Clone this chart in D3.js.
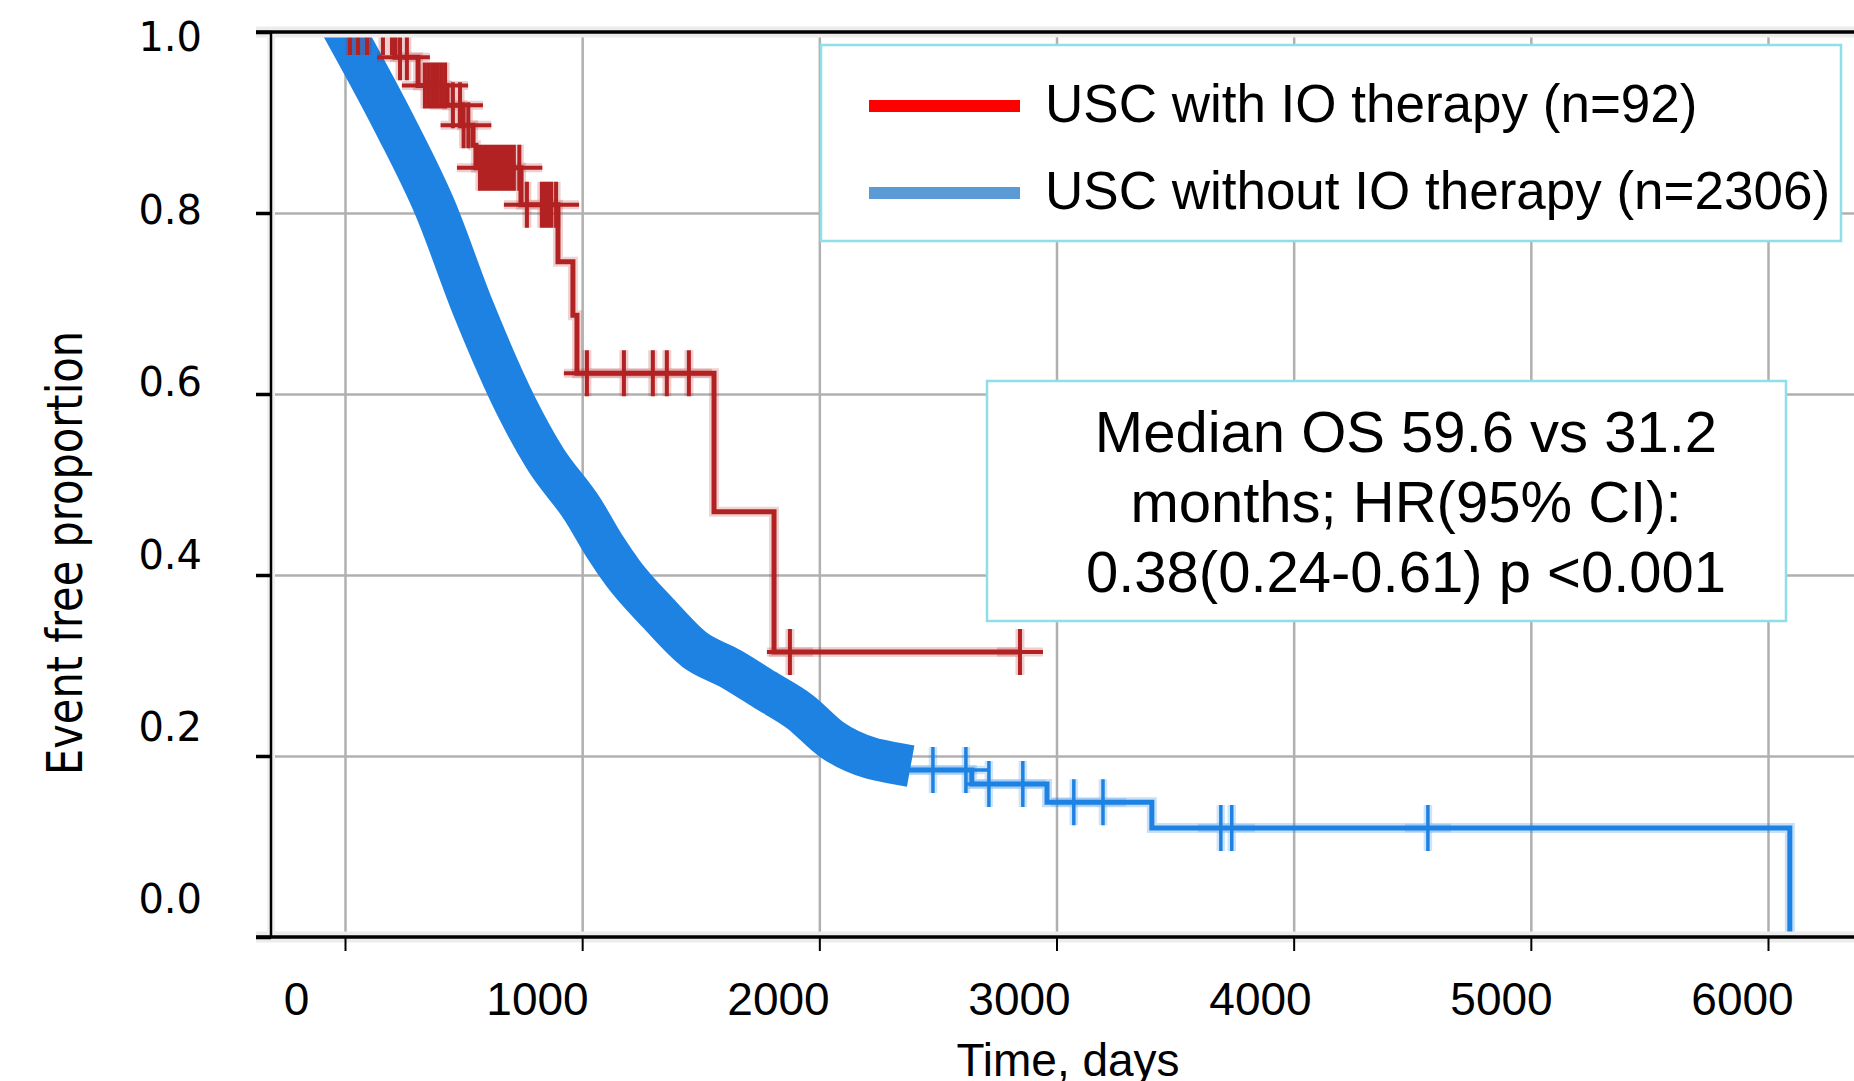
<!DOCTYPE html>
<html lang="en">
<head>
<meta charset="UTF-8">
<title>USC survival with and without IO therapy</title>
<script src="https://d3js.org/d3.v7.min.js"></script>
<style>
  body { margin: 0; background: #fff; }
  svg { display: block; }
  .grid line { stroke: #b0b0b0; stroke-width: 2.5; }
  .grid path, .lab path { display: none; }
  .lab line { display: none; }
</style>
</head>
<body>
<script>
// axis values
const xTicks = [0, 1000, 2000, 3000, 4000, 5000, 6000];
const yTicks = [0, 0.2, 0.4, 0.6, 0.8, 1.0];

// USC with IO therapy (n=92): step points
const ioTime = [0, 211, 308, 430, 493, 540, 552, 742, 898, 961, 978, 1556, 1809, 2846];
const ioSurv = [1.0, 0.972, 0.941, 0.919, 0.897, 0.875, 0.850, 0.809, 0.746, 0.687, 0.623, 0.470, 0.315, 0.315];
const ioCensor = [21, 55, 93, 160, 198, 232, 261, 337, 354, 371, 388, 405, 422, 455, 485, 500, 520,
                  569, 585, 599, 612, 624, 640, 653, 668, 683, 698, 712, 735, 767, 830, 845, 856, 870, 890,
                  1020, 1176, 1298, 1357, 1450, 1876, 2846];

// USC without IO therapy (n=2306): early part is a solid band of censor marks
const noIoBandTime = [0, 211, 379, 540, 725, 843, 1003, 1096, 1172, 1320, 1476, 1623, 1771, 1918, 2053, 2213, 2298];
const noIoBandSurv = [1.0, 0.897, 0.806, 0.695, 0.585, 0.529, 0.472, 0.431, 0.402, 0.358, 0.317, 0.297, 0.273, 0.249, 0.218, 0.198, 0.193];
// sparse tail of the same curve
const noIoTime = [2298, 2643, 2960, 3402, 6092];
const noIoSurv = [0.1845, 0.169, 0.149, 0.1204, 0];
const noIoCensor = [2479, 2618, 2715, 2858, 3073, 3196, 3693, 3739, 4566];

const legendLabels = ["USC with IO therapy (n=92)", "USC without IO therapy (n=2306)"];
const legendColors = ["#ff0000", "#5b9bd5"];
const statsLines = ["Median OS 59.6 vs 31.2", "months; HR(95% CI):", "0.38(0.24-0.61) p <0.001"];

const W = 1854, H = 1081;
const plotL = 271, plotR = 1854, plotT = 32, plotB = 937;
const red = "#b22222", blue = "#1e82e3";
const arial = "'Liberation Sans', Arial, sans-serif";
const dejavu = "'DejaVu Sans', Verdana, sans-serif";

const svg = d3.select("body").append("svg")
    .attr("width", W)
    .attr("height", H);

svg.append("rect").attr("width", W).attr("height", H).attr("fill", "#fff");

const x = d3.scaleLinear().domain([0, 6000]).range([345, 1768]);
const y = d3.scaleLinear().domain([0, 1]).range([plotB, plotT]);
// the tick labels in the figure sit a little off their grid lines
const xLabel = d3.scaleLinear().domain([0, 6000]).range([296, 1742]);
const yLabel = d3.scaleLinear().domain([0, 1]).range([900, 38]);

// grid
svg.append("g")
    .attr("class", "grid")
    .attr("transform", `translate(0,${plotB})`)
    .call(d3.axisBottom(x).tickValues(xTicks).tickSize(-(plotB - plotT)).tickFormat(""));
svg.append("g")
    .attr("class", "grid")
    .attr("transform", `translate(${plotL},0)`)
    .call(d3.axisLeft(y).tickValues([0.2, 0.4, 0.6, 0.8]).tickSize(-(plotR - plotL)).tickFormat(""));

// curves
svg.append("clipPath").attr("id", "plot")
  .append("rect").attr("x", plotL).attr("y", plotT).attr("width", plotR - plotL).attr("height", plotB - plotT + 2);

const plot = svg.append("g").attr("clip-path", "url(#plot)");

const stepLine = d3.line().x(d => x(d[0])).y(d => y(d[1])).curve(d3.curveStepAfter);
const bandLine = d3.line().x(d => x(d[0])).y(d => y(d[1])).curve(d3.curveMonotoneX);

function survAt(times, survs, t) {
  const i = d3.bisectRight(times, t) - 1;
  return survs[Math.max(0, i)];
}

function crosses(g, times, stepT, stepS, color, w) {
  const pts = times.map(t => [x(t), y(survAt(stepT, stepS, t))]);
  const d = pts.map(p => `M${p[0] - 23},${p[1]}H${p[0] + 23}M${p[0]},${p[1] - 23}V${p[1] + 23}`).join("");
  g.append("path").attr("d", d).attr("fill", "none")
    .attr("stroke", color).attr("stroke-opacity", 0.22).attr("stroke-width", w + 5);
  g.append("path").attr("d", d).attr("fill", "none")
    .attr("stroke", color).attr("stroke-width", w);
}

// without IO therapy
const bandPts = noIoBandTime.map((t, i) => [t, noIoBandSurv[i]]);
const tailPts = noIoTime.map((t, i) => [t, noIoSurv[i]]);
plot.append("path")
    .attr("d", stepLine(tailPts))
    .attr("fill", "none").attr("stroke", blue).attr("stroke-opacity", 0.25).attr("stroke-width", 10);
plot.append("path")
    .attr("d", stepLine(tailPts))
    .attr("fill", "none").attr("stroke", blue).attr("stroke-width", 5);
plot.append("path")
    .attr("d", bandLine(bandPts))
    .attr("fill", "none").attr("stroke", blue).attr("stroke-width", 42)
    .attr("stroke-linejoin", "round").attr("stroke-linecap", "square");
crosses(plot, noIoCensor, noIoTime, noIoSurv, blue, 3.5);

// with IO therapy
const ioPts = ioTime.map((t, i) => [t, ioSurv[i]]);
plot.append("path")
    .attr("d", stepLine(ioPts))
    .attr("fill", "none").attr("stroke", red).attr("stroke-opacity", 0.2).attr("stroke-width", 10);
plot.append("path")
    .attr("d", stepLine(ioPts))
    .attr("fill", "none").attr("stroke", red).attr("stroke-width", 5);
crosses(plot, ioCensor, ioTime, ioSurv, red, 4);

// axis frame
const frame = svg.append("g");
const hLines = [[256, plotT, plotR, plotT], [256, plotB, plotR, plotB]];
hLines.forEach(l => {
  frame.append("line").attr("x1", l[0]).attr("y1", l[1]).attr("x2", l[2]).attr("y2", l[3])
    .attr("stroke", "#ececec").attr("stroke-width", 11);
});
frame.append("line").attr("x1", plotL).attr("y1", plotT).attr("x2", plotL).attr("y2", plotB)
    .attr("stroke", "#f0f0f0").attr("stroke-width", 8);
frame.append("line").attr("x1", plotL).attr("y1", plotT).attr("x2", plotL).attr("y2", plotB)
    .attr("stroke", "#000").attr("stroke-width", 2.5);
hLines.forEach(l => {
  frame.append("line").attr("x1", l[0]).attr("y1", l[1]).attr("x2", l[2]).attr("y2", l[3])
    .attr("stroke", "#000").attr("stroke-width", 3.5);
});

// tick marks
const xTickG = svg.append("g")
    .attr("transform", `translate(0,${plotB})`)
    .call(d3.axisBottom(x).tickValues(xTicks).tickSize(14).tickFormat(""));
xTickG.select(".domain").remove();
xTickG.selectAll("line").attr("stroke", "#000").attr("stroke-width", 2);

const yTickG = svg.append("g")
    .attr("transform", `translate(${plotL},0)`)
    .call(d3.axisLeft(y).tickValues(yTicks).tickSize(15).tickFormat(""));
yTickG.select(".domain").remove();
yTickG.selectAll("line").attr("stroke", "#000").attr("stroke-width", 3.5);

// tick labels
const xLabG = svg.append("g")
    .attr("class", "lab")
    .attr("transform", "translate(0,982)")
    .call(d3.axisBottom(xLabel).tickValues(xTicks).tickSize(0).tickPadding(0).tickFormat(d3.format("d")));
xLabG.selectAll("text").attr("font-family", arial).attr("font-size", 46).attr("fill", "#000");

const yLabG = svg.append("g")
    .attr("class", "lab")
    .attr("transform", "translate(202,0)")
    .call(d3.axisLeft(yLabel).tickValues(yTicks).tickSize(0).tickPadding(0).tickFormat(d3.format(".1f")));
yLabG.selectAll("text").attr("font-family", dejavu).attr("font-size", 40).attr("fill", "#000");

// axis titles
svg.append("text")
    .attr("x", 1068).attr("y", 1076)
    .attr("text-anchor", "middle")
    .attr("font-family", arial).attr("font-size", 46)
    .text("Time, days");

svg.append("text")
    .attr("transform", "translate(82,553) rotate(-90)")
    .attr("text-anchor", "middle")
    .attr("font-family", dejavu).attr("font-size", 50)
    .attr("textLength", 444).attr("lengthAdjust", "spacingAndGlyphs")
    .text("Event free proportion");

// legend
const legend = svg.append("g");
legend.append("rect")
    .attr("x", 821).attr("y", 45).attr("width", 1020).attr("height", 196)
    .attr("fill", "#fff").attr("stroke", "#8fdfea").attr("stroke-width", 2.5);
legendLabels.forEach((lab, i) => {
  const cy = 106 + i * 87;
  legend.append("line")
      .attr("x1", 869).attr("x2", 1020).attr("y1", cy).attr("y2", cy)
      .attr("stroke", legendColors[i]).attr("stroke-width", 12);
  legend.append("text")
      .attr("x", 1045).attr("y", cy + 16)
      .attr("font-family", arial).attr("font-size", 53)
      .text(lab);
});

// statistics box
const stats = svg.append("g");
stats.append("rect")
    .attr("x", 987).attr("y", 381).attr("width", 799).attr("height", 240)
    .attr("fill", "#fff").attr("stroke", "#8fdfea").attr("stroke-width", 2.5);
statsLines.forEach((s, i) => {
  stats.append("text")
      .attr("x", 1406).attr("y", 452 + i * 70)
      .attr("text-anchor", "middle")
      .attr("font-family", arial).attr("font-size", 58)
      .text(s);
});
</script>
</body>
</html>
